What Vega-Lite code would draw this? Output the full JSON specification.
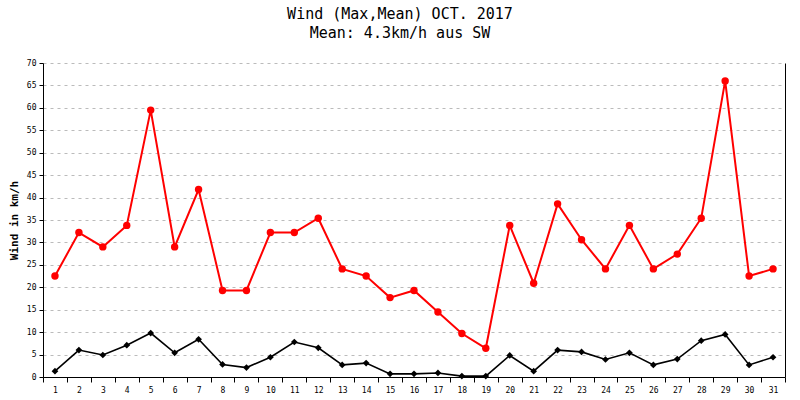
{
  "$schema": "https://vega.github.io/schema/vega-lite/v6.json",
  "autosize": {"type": "none"},
  "width": 742,
  "height": 314,
  "padding": {"left": 43, "top": 63, "right": 15, "bottom": 23},
  "background": "white",
  "config": {
    "view": {"stroke": null},
    "axis": {"labelFont": "DejaVu Sans Mono", "labelFontSize": 8, "labelColor": "black", "domainColor": "black", "tickColor": "black", "titleFont": "DejaVu Sans Mono"}
  },
  "title": {
    "text": ["Wind (Max,Mean) OCT. 2017", "Mean: 4.3km/h aus SW"],
    "font": "DejaVu Sans Mono",
    "fontSize": 15,
    "fontWeight": "normal",
    "lineHeight": 19,
    "anchor": "middle",
    "dx": -14,
    "offset": 18,
    "color": "black"
  },
  "data": {
    "values": [
      {"day": 1, "max": 22.5, "mean": 1.3},
      {"day": 2, "max": 32.2, "mean": 6.0},
      {"day": 3, "max": 29.0, "mean": 4.9},
      {"day": 4, "max": 33.8, "mean": 7.1},
      {"day": 5, "max": 59.5, "mean": 9.8},
      {"day": 6, "max": 29.0, "mean": 5.4},
      {"day": 7, "max": 41.8, "mean": 8.4},
      {"day": 8, "max": 19.3, "mean": 2.8},
      {"day": 9, "max": 19.3, "mean": 2.1},
      {"day": 10, "max": 32.2, "mean": 4.4},
      {"day": 11, "max": 32.2, "mean": 7.8},
      {"day": 12, "max": 35.4, "mean": 6.5},
      {"day": 13, "max": 24.1, "mean": 2.7},
      {"day": 14, "max": 22.5, "mean": 3.1},
      {"day": 15, "max": 17.7, "mean": 0.7},
      {"day": 16, "max": 19.3, "mean": 0.7},
      {"day": 17, "max": 14.5, "mean": 0.9},
      {"day": 18, "max": 9.7, "mean": 0.2},
      {"day": 19, "max": 6.4, "mean": 0.2},
      {"day": 20, "max": 33.8, "mean": 4.8},
      {"day": 21, "max": 20.9, "mean": 1.3},
      {"day": 22, "max": 38.6, "mean": 6.0},
      {"day": 23, "max": 30.6, "mean": 5.6},
      {"day": 24, "max": 24.1, "mean": 3.9},
      {"day": 25, "max": 33.8, "mean": 5.4},
      {"day": 26, "max": 24.1, "mean": 2.7},
      {"day": 27, "max": 27.4, "mean": 4.0},
      {"day": 28, "max": 35.4, "mean": 8.1},
      {"day": 29, "max": 66.0, "mean": 9.5},
      {"day": 30, "max": 22.5, "mean": 2.7},
      {"day": 31, "max": 24.1, "mean": 4.4}
    ]
  },
  "encoding": {
    "x": {
      "field": "day", "type": "ordinal",
      "scale": {"type": "band", "paddingInner": 0, "paddingOuter": 0},
      "axis": {"title": null, "labelAngle": 0, "tickBand": "extent", "tickSize": 5, "labelPadding": 4, "grid": false}
    }
  },
  "layer": [
    {
      "mark": {"type": "line", "color": "red", "strokeWidth": 2, "point": {"filled": true, "color": "red", "size": 55, "shape": "circle"}},
      "encoding": {
        "y": {
          "field": "max", "type": "quantitative",
          "scale": {"domain": [0, 70], "nice": false, "zero": true},
          "axis": {
            "title": "Wind in km/h", "titleFontSize": 11, "titleFontWeight": "bold", "titleColor": "black", "titlePadding": 7,
            "values": [0, 5, 10, 15, 20, 25, 30, 35, 40, 45, 50, 55, 60, 65, 70],
            "grid": true, "gridColor": "#bbbbbb", "gridDash": [3, 4], "gridWidth": 1,
            "tickSize": 4, "labelPadding": 3
          }
        }
      }
    },
    {
      "mark": {"type": "line", "color": "black", "strokeWidth": 1.6, "point": {"filled": true, "color": "black", "size": 45, "shape": "diamond"}},
      "encoding": {
        "y": {
          "field": "mean", "type": "quantitative",
          "scale": {"domain": [0, 70], "nice": false, "zero": true},
          "axis": {"orient": "right", "title": null, "labels": false, "ticks": false, "grid": false, "domain": true}
        }
      }
    }
  ],
  "resolve": {"axis": {"y": "independent"}}
}
